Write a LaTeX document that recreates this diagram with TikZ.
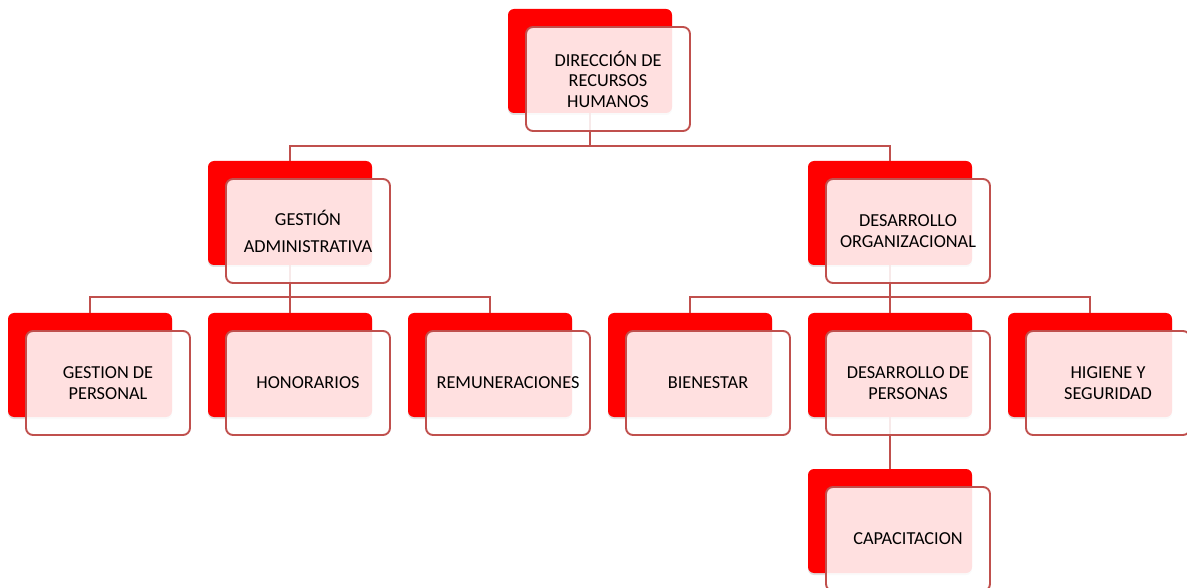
\documentclass[tikz,border=0pt]{standalone}
\usepackage{fontspec}
\setmainfont{Carlito}
\usetikzlibrary{shadows}
\definecolor{edge}{HTML}{C0504D}
\pgfdeclarelayer{redl}
\pgfdeclarelayer{linkl}
\pgfsetlayers{redl,linkl,main}
\tikzset{
  backbox/.style={fill=red, draw=none, rounded corners=6pt, minimum width=164pt, minimum height=104pt, inner sep=0pt,
    drop shadow={opacity=0.25, shadow xshift=0pt, shadow yshift=-2pt}},
  frontbox/.style={draw=edge, line width=1.9pt, fill=white, fill opacity=0.88, text opacity=1, rounded corners=7pt,
    minimum width=164pt, minimum height=104pt, inner sep=0pt, align=center, font=\fontsize{18.3}{20.5}\selectfont},
  link/.style={draw=edge, line width=1.9pt}
}
\newcommand\orgbox[4]{%
  \begin{pgfonlayer}{redl}\node[backbox] (r#1) at (#2,#3) {};\end{pgfonlayer}
  \node[frontbox] (f#1) at ([shift={(18pt,-18pt)}]r#1.center) {#4};}
\begin{document}
\begin{tikzpicture}[x=1pt,y=-1pt]
\useasboundingbox (0,0) rectangle (1187,588);
\clip (0,0) rectangle (1187,588);
\orgbox{Top}{590}{61}{DIRECCIÓN DE\\RECURSOS\\HUMANOS}
\orgbox{GA}{290}{213}{GESTIÓN\\[6.5pt]ADMINISTRATIVA}
\orgbox{DO}{890}{213}{DESARROLLO\\ORGANIZACIONAL}
\orgbox{GP}{90}{365}{GESTION DE\\PERSONAL}
\orgbox{HO}{290}{365}{HONORARIOS}
\orgbox{RE}{490}{365}{REMUNERACIONES}
\orgbox{BI}{690}{365}{BIENESTAR}
\orgbox{DP}{890}{365}{DESARROLLO DE\\PERSONAS}
\orgbox{HS}{1090}{365}{HIGIENE Y\\SEGURIDAD}
\orgbox{CA}{890}{521}{CAPACITACION}
\coordinate (busA) at (0,146);
\coordinate (busB) at (0,297);
\begin{pgfonlayer}{linkl}
\draw[link] (rTop.south) -- (rTop.south |- busA) -| (rGA.north);
\draw[link] (rTop.south |- busA) -| (rDO.north);
\draw[link] (rGA.south) -- (rGA.south |- busB) -| (rGP.north);
\draw[link] (rGA.south |- busB) -| (rHO.north);
\draw[link] (rGA.south |- busB) -| (rRE.north);
\draw[link] (rDO.south) -- (rDO.south |- busB) -| (rBI.north);
\draw[link] (rDO.south |- busB) -| (rDP.north);
\draw[link] (rDO.south |- busB) -| (rHS.north);
\draw[link] (rDP.south) -- (rCA.north);
\end{pgfonlayer}
\end{tikzpicture}
\end{document}
